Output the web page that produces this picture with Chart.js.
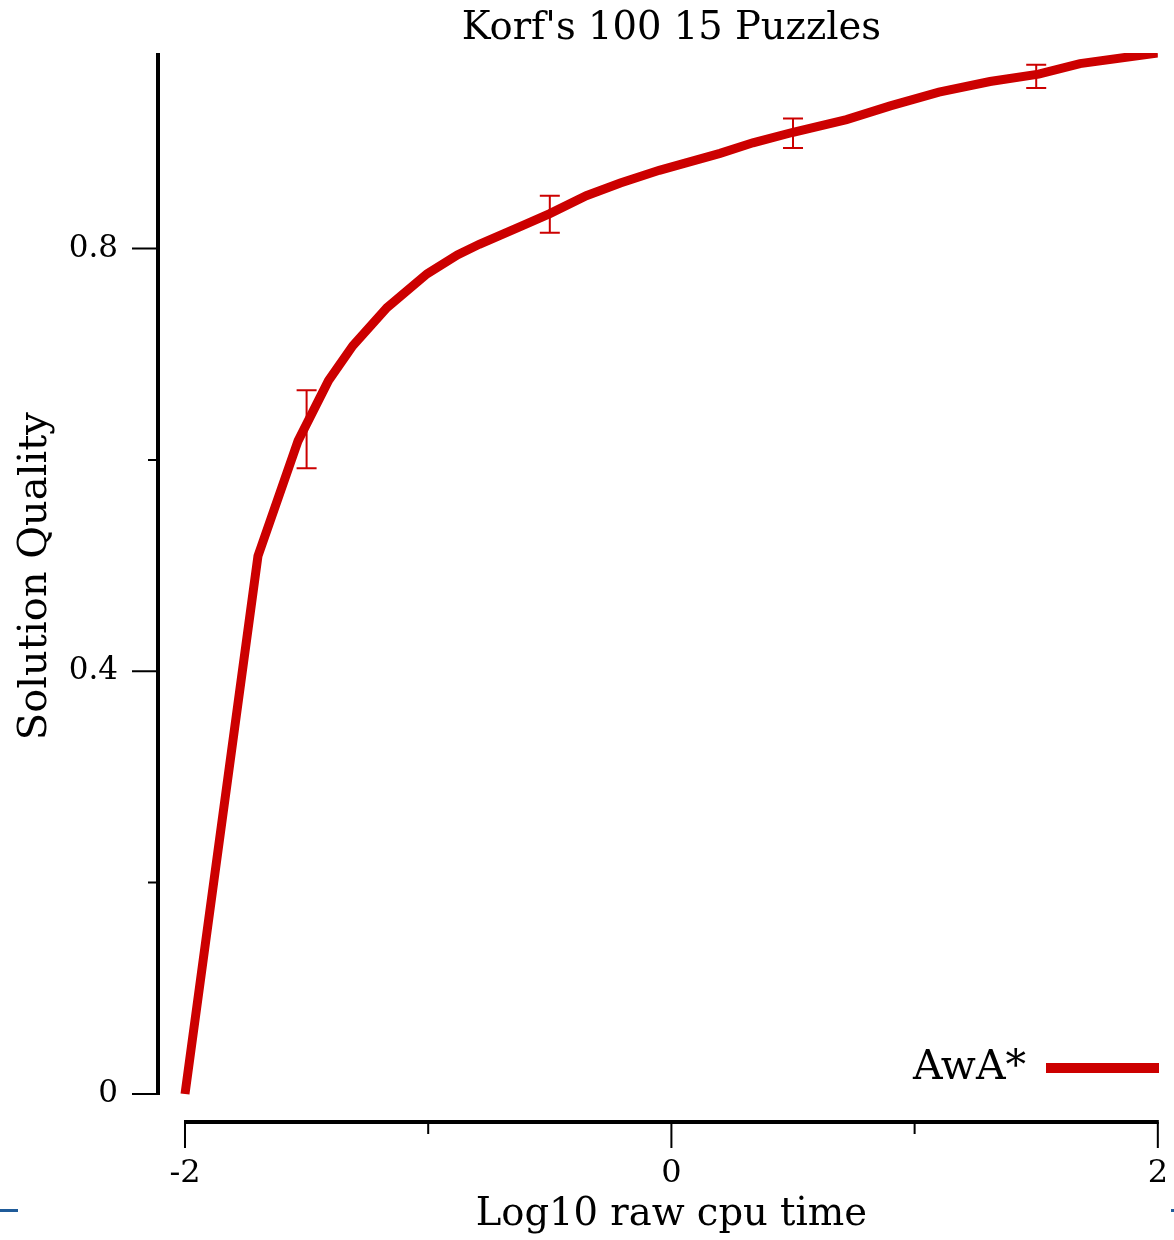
<!DOCTYPE html>
<html>
<head>
<meta charset="utf-8">
<title>Korf's 100 15 Puzzles</title>
<script src="https://cdn.jsdelivr.net/npm/chart.js@4/dist/chart.umd.min.js"></script>
<style>
  html, body { margin: 0; padding: 0; background: #fff; }
  #wrap { position: relative; width: 1174px; height: 1240px; }
  .mark { position: absolute; height: 3px; background: #1f5b99; }
</style>
</head>
<body>
<div id="wrap">
  <canvas id="qualityChart" width="1174" height="1240"></canvas>
  <div class="mark" style="left:0;top:1209px;width:18px"></div>
  <div class="mark" style="left:1171px;top:1209px;width:3px"></div>
</div>
<script>
// AwA* anytime curve
const logTime = [-2, -1.70, -1.535, -1.41, -1.31, -1.17, -1.005, -0.88, -0.79, -0.61, -0.50, -0.35, -0.21, -0.05, 0.06, 0.20, 0.335, 0.50, 0.72, 0.90, 1.10, 1.31, 1.51, 1.68, 2.0];
const quality = [0, 0.509, 0.618, 0.675, 0.708, 0.744, 0.776, 0.794, 0.804, 0.822, 0.833, 0.850, 0.862, 0.874, 0.881, 0.890, 0.900, 0.910, 0.922, 0.935, 0.948, 0.958, 0.965, 0.975, 0.985];

// error bars
const errX = [-1.5, -0.5, 0.5, 1.5];
const errLow = [0.592, 0.815, 0.895, 0.952];
const errHigh = [0.666, 0.850, 0.923, 0.974];

const xTicks = [-2, -1, 0, 1, 2];
const xLabeled = [-2, 0, 2];
const yTicks = [0, 0.2, 0.4, 0.6, 0.8];
const yLabeled = [0, 0.4, 0.8];

const seriesName = 'AwA*';
const chartTitle = "Korf's 100 15 Puzzles";
const xTitle = 'Log10 raw cpu time';
const yTitle = 'Solution Quality';

const RED = '#cc0000';
const FONT = "'DejaVu Serif', serif";

const decorPlugin = {
    id: 'decor',
    afterDatasetsDraw(chart) {
        const ctx = chart.ctx;
        const xs = chart.scales.x, ys = chart.scales.y;
        ctx.save();
        // error bars
        ctx.strokeStyle = RED;
        ctx.lineWidth = 2;
        errX.forEach((v, i) => {
            const px = xs.getPixelForValue(v);
            const lo = ys.getPixelForValue(errLow[i]);
            const hi = ys.getPixelForValue(errHigh[i]);
            ctx.beginPath();
            ctx.moveTo(px, lo); ctx.lineTo(px, hi);
            ctx.moveTo(px - 10, lo); ctx.lineTo(px + 10, lo);
            ctx.moveTo(px - 10, hi); ctx.lineTo(px + 10, hi);
            ctx.stroke();
        });

        // axis lines
        const area = chart.chartArea;
        ctx.strokeStyle = '#000';
        ctx.lineWidth = 4;
        ctx.lineCap = 'butt';
        ctx.beginPath();
        ctx.moveTo(area.left, area.top);
        ctx.lineTo(area.left, ys.getPixelForValue(0) + 1);
        ctx.moveTo(xs.getPixelForValue(xTicks[0]) - 1, area.bottom);
        ctx.lineTo(xs.getPixelForValue(xTicks[xTicks.length - 1]) + 1, area.bottom);
        ctx.stroke();

        // tick marks
        ctx.lineWidth = 2;
        ctx.beginPath();
        yTicks.forEach(v => {
            const py = ys.getPixelForValue(v);
            const len = yLabeled.includes(v) ? 26 : 10;
            ctx.moveTo(area.left - len, py);
            ctx.lineTo(area.left, py);
        });
        xTicks.forEach(v => {
            const px = xs.getPixelForValue(v);
            const len = xLabeled.includes(v) ? 26 : 12;
            ctx.moveTo(px, area.bottom);
            ctx.lineTo(px, area.bottom + len);
        });
        ctx.stroke();

        // titles
        ctx.fillStyle = '#000';
        ctx.textAlign = 'center';
        ctx.textBaseline = 'middle';
        ctx.font = '38.5px ' + FONT;
        const cx = xs.getPixelForValue(0);
        ctx.fillText(chartTitle, cx, 29);
        ctx.fillText(xTitle, cx, 1215);
        ctx.save();
        ctx.font = '40px ' + FONT;
        ctx.translate(36, ys.getPixelForValue(0.49));
        ctx.rotate(-Math.PI / 2);
        ctx.fillText(yTitle, 0, 0);
        ctx.restore();

        // legend
        ctx.font = '41px ' + FONT;
        ctx.textAlign = 'right';
        ctx.fillText(seriesName, 1026, 1068);
        ctx.strokeStyle = RED;
        ctx.lineWidth = 10;
        ctx.beginPath();
        ctx.moveTo(1046, 1068);
        ctx.lineTo(1159, 1068);
        ctx.stroke();
        ctx.restore();
    }
};

const ctx = document.getElementById('qualityChart').getContext('2d');
new Chart(ctx, {
    type: 'line',
    data: {
        datasets: [{
            label: seriesName,
            data: logTime.map((x, i) => ({ x: x, y: quality[i] })),
            borderColor: RED,
            borderWidth: 9,
            pointRadius: 0,
            tension: 0,
            fill: false
        }]
    },
    options: {
        responsive: false,
        animation: false,
        devicePixelRatio: 1,
        layout: { padding: { top: 53, right: 16, left: 0, bottom: 0 } },
        plugins: { legend: { display: false }, title: { display: false }, tooltip: { enabled: false } },
        scales: {
            x: {
                type: 'linear',
                min: -2.111,
                max: 2,
                afterBuildTicks: s => { s.ticks = xTicks.map(v => ({ value: v })); },
                afterFit: s => { s.height = 118; },
                border: { display: false },
                grid: { drawOnChartArea: false, drawTicks: true, tickLength: 26, color: 'rgba(0,0,0,0)' },
                ticks: {
                    padding: 6,
                    maxRotation: 0,
                    color: '#000',
                    font: { family: FONT, size: 32 },
                    callback: v => xLabeled.includes(v) ? String(v) : ''
                }
            },
            y: {
                type: 'linear',
                min: -0.0265,
                max: 0.985,
                afterBuildTicks: s => { s.ticks = yTicks.map(v => ({ value: v })); },
                afterFit: s => { s.width = 158; },
                border: { display: false },
                grid: { drawOnChartArea: false, drawTicks: true, tickLength: 26, color: 'rgba(0,0,0,0)' },
                ticks: {
                    padding: 14,
                    color: '#000',
                    font: { family: FONT, size: 31 },
                    callback: v => yLabeled.includes(v) ? String(v) : ''
                }
            }
        }
    },
    plugins: [decorPlugin]
});
</script>
</body>
</html>
